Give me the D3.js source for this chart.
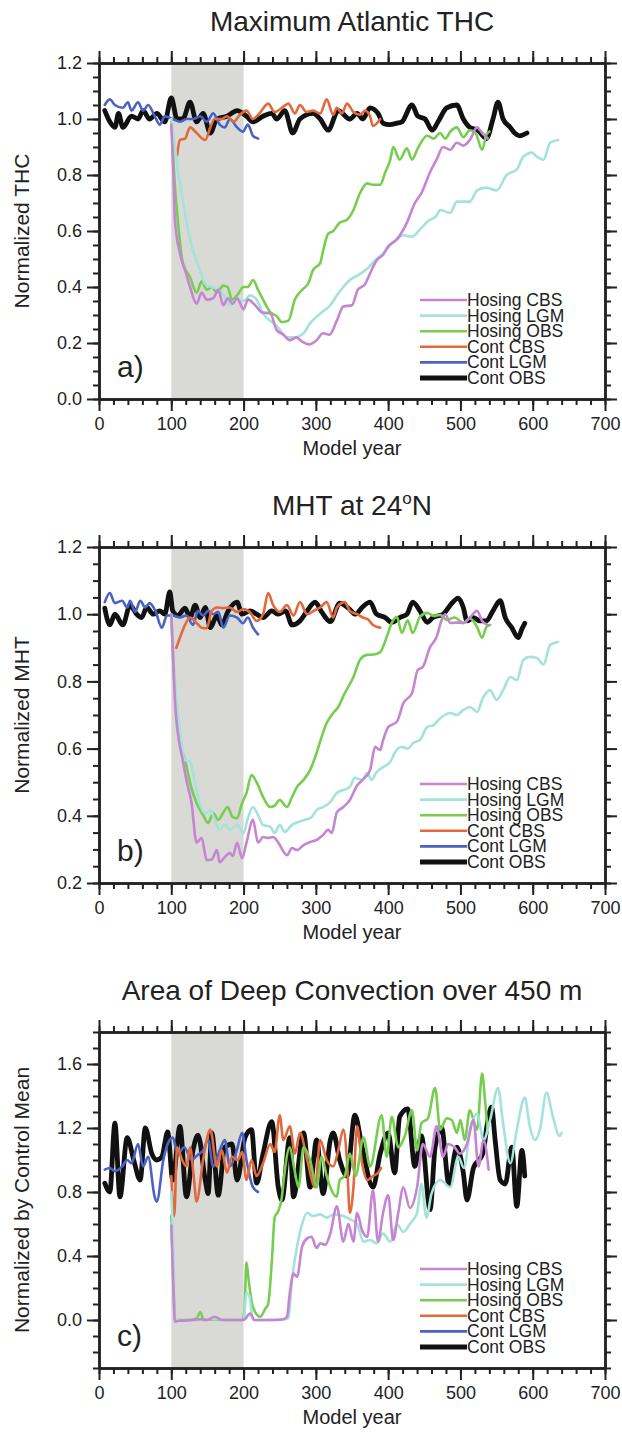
<!DOCTYPE html>
<html>
<head>
<meta charset="utf-8">
<script src="https://cdn.jsdelivr.net/npm/d3@7"></script>
<style>
  body { margin: 0; background: #fff; }
  text { font-family: "Liberation Sans", Arial, Helvetica, sans-serif; fill: #222; }
</style>
</head>
<body>
<div id="chart"></div>
<script>
// ---- data: [model year, normalized value] ----
const seriesNames = ["Hosing CBS", "Hosing LGM", "Hosing OBS", "Cont CBS", "Cont LGM", "Cont OBS"];
const xTicks = [0, 100, 200, 300, 400, 500, 600, 700];

// a) Maximum Atlantic THC
const thcHosingCBS = [[100,0.98],[103,0.8],[105,0.64],[112,0.52],[119,0.46],[126,0.40],[135,0.34],[142,0.38],[149,0.355],[158,0.36],[165,0.39],[172,0.335],[178,0.36],[185,0.34],[191,0.36],[200,0.32],[206,0.355],[216,0.335],[225,0.31],[237,0.305],[246,0.245],[255,0.23],[264,0.21],[273,0.22],[281,0.205],[290,0.195],[301,0.21],[310,0.235],[319,0.23],[329,0.28],[338,0.33],[350,0.335],[358,0.39],[368,0.41],[377,0.46],[384,0.495],[393,0.515],[400,0.545],[412,0.57],[426,0.63],[437,0.70],[446,0.735],[458,0.81],[467,0.855],[476,0.90],[486,0.89],[495,0.915],[504,0.905],[513,0.925],[523,0.97],[530,0.95],[538,0.93]];
const thcHosingLGM = [[100,1.0],[105,0.9],[110,0.8],[116,0.71],[122,0.62],[130,0.53],[140,0.46],[147,0.41],[156,0.40],[165,0.39],[173,0.37],[181,0.335],[191,0.355],[200,0.35],[209,0.37],[218,0.355],[227,0.305],[239,0.275],[248,0.255],[260,0.22],[269,0.22],[283,0.235],[292,0.27],[306,0.305],[320,0.335],[329,0.37],[338,0.40],[347,0.425],[357,0.44],[371,0.465],[382,0.495],[393,0.52],[403,0.55],[412,0.57],[421,0.585],[433,0.58],[444,0.605],[455,0.635],[467,0.655],[472,0.675],[486,0.665],[495,0.705],[513,0.705],[523,0.745],[536,0.755],[550,0.745],[564,0.80],[578,0.82],[587,0.865],[599,0.88],[606,0.865],[615,0.855],[624,0.915],[635,0.925]];
const thcHosingOBS = [[100,1.0],[104,0.8],[109,0.64],[116,0.485],[126,0.435],[135,0.38],[142,0.42],[149,0.39],[156,0.40],[163,0.38],[172,0.405],[178,0.40],[184,0.355],[191,0.37],[200,0.40],[206,0.40],[213,0.425],[220,0.39],[227,0.355],[237,0.31],[246,0.295],[253,0.275],[262,0.28],[271,0.355],[281,0.39],[290,0.415],[296,0.46],[306,0.485],[310,0.53],[317,0.59],[324,0.60],[333,0.63],[343,0.64],[352,0.675],[361,0.735],[371,0.77],[379,0.765],[389,0.765],[396,0.81],[403,0.855],[407,0.90],[416,0.855],[426,0.895],[433,0.855],[441,0.895],[454,0.94],[463,0.93],[472,0.95],[479,0.93],[486,0.955],[495,0.97],[504,0.935],[513,0.96],[521,0.95],[530,0.89],[536,0.945],[540,0.955]];
const thcContCBS = [[108,0.87],[112,0.925],[119,0.93],[126,0.97],[135,0.95],[147,0.925],[154,0.97],[160,1.0],[170,1.0],[177,1.01],[186,0.99],[195,1.015],[204,1.03],[213,1.0],[222,1.02],[234,1.055],[243,1.025],[253,1.04],[262,1.055],[271,1.02],[278,1.05],[287,1.025],[296,1.03],[306,1.02],[315,1.07],[324,1.015],[329,1.04],[336,1.02],[343,1.055],[352,1.025],[361,1.015],[368,1.03],[375,1.01],[379,0.975],[389,1.0]];
const thcContLGM = [[8,1.05],[15,1.07],[22,1.05],[33,1.04],[40,1.06],[45,1.03],[54,1.06],[61,1.03],[68,1.05],[77,1.01],[84,0.98],[91,1.01],[102,1.0],[112,0.99],[121,1.0],[130,1.0],[140,1.01],[149,0.99],[158,1.02],[167,0.98],[174,0.97],[181,1.0],[191,0.97],[199,0.955],[206,0.98],[213,0.94],[220,0.93]];
const thcContOBS = [[8,1.03],[15,0.99],[22,0.97],[27,1.02],[33,0.97],[45,1.01],[54,1.0],[61,1.03],[70,1.0],[80,1.02],[91,0.99],[100,1.075],[108,1.0],[116,1.0],[126,1.06],[135,0.99],[144,1.02],[154,0.95],[163,1.0],[177,1.01],[191,1.03],[204,1.01],[213,0.99],[227,1.01],[239,1.02],[246,1.0],[257,1.03],[268,0.95],[278,1.0],[296,1.02],[306,1.0],[317,0.96],[331,1.03],[347,1.0],[357,1.02],[365,1.0],[375,1.04],[386,1.02],[393,0.985],[402,0.98],[412,0.985],[419,0.99],[433,1.05],[441,1.01],[451,1.0],[461,0.96],[469,0.99],[481,1.04],[495,1.05],[504,1.0],[513,0.97],[524,0.96],[536,0.93],[545,1.0],[552,1.06],[559,1.0],[569,0.97],[575,0.95],[582,0.94],[592,0.95]];

// b) MHT at 24N
const mhtHosingCBS = [[100,1.0],[103,0.85],[105,0.745],[109,0.646],[115,0.575],[121,0.506],[128,0.438],[135,0.32],[142,0.334],[149,0.268],[156,0.27],[163,0.298],[167,0.262],[174,0.277],[181,0.289],[185,0.28],[191,0.32],[198,0.274],[204,0.32],[213,0.388],[220,0.32],[227,0.337],[234,0.334],[241,0.337],[248,0.32],[260,0.283],[267,0.304],[274,0.298],[283,0.313],[292,0.322],[301,0.328],[310,0.343],[317,0.358],[322,0.349],[329,0.41],[338,0.426],[347,0.447],[357,0.49],[366,0.51],[375,0.536],[382,0.605],[389,0.596],[393,0.625],[400,0.664],[412,0.68],[421,0.735],[433,0.765],[441,0.834],[448,0.843],[458,0.902],[467,0.932],[474,0.982],[479,1.0],[486,0.974],[495,0.975],[504,0.974],[513,0.99],[523,1.01],[530,0.98],[538,0.968]];
const mhtHosingLGM = [[100,1.0],[105,0.8],[112,0.655],[119,0.566],[126,0.56],[133,0.498],[140,0.432],[147,0.408],[154,0.417],[160,0.388],[167,0.358],[174,0.373],[181,0.358],[191,0.373],[200,0.349],[206,0.393],[213,0.426],[220,0.402],[227,0.373],[237,0.367],[243,0.349],[250,0.373],[257,0.352],[267,0.373],[276,0.382],[285,0.388],[294,0.396],[301,0.417],[310,0.426],[320,0.441],[329,0.468],[338,0.477],[347,0.486],[354,0.513],[364,0.507],[371,0.527],[377,0.507],[384,0.53],[393,0.545],[403,0.56],[409,0.587],[419,0.605],[427,0.6],[435,0.617],[444,0.626],[454,0.664],[463,0.67],[472,0.69],[486,0.706],[495,0.70],[504,0.715],[513,0.724],[523,0.709],[531,0.75],[541,0.774],[550,0.745],[559,0.774],[569,0.813],[578,0.804],[587,0.864],[596,0.873],[606,0.87],[615,0.85],[624,0.908],[635,0.917]];
const mhtHosingOBS = [[100,1.0],[104,0.8],[108,0.7],[112,0.617],[119,0.566],[126,0.498],[135,0.438],[144,0.402],[151,0.379],[158,0.408],[165,0.388],[172,0.41],[178,0.426],[185,0.396],[191,0.393],[198,0.438],[204,0.468],[211,0.521],[218,0.50],[227,0.456],[237,0.426],[243,0.43],[250,0.447],[260,0.426],[267,0.456],[274,0.486],[283,0.507],[292,0.536],[301,0.587],[308,0.635],[315,0.676],[324,0.706],[331,0.724],[340,0.765],[352,0.813],[361,0.864],[371,0.879],[380,0.88],[389,0.887],[398,0.932],[405,0.974],[412,0.992],[419,0.944],[427,0.982],[434,0.944],[444,0.992],[454,1.004],[463,0.995],[472,0.998],[481,0.983],[492,0.99],[504,0.974],[513,0.988],[523,0.962],[530,0.93],[536,0.962],[541,0.968]];
const mhtContCBS = [[107,0.9],[112,0.93],[119,0.968],[126,0.99],[135,0.974],[142,0.96],[149,0.958],[156,1.01],[163,1.02],[172,1.018],[181,1.02],[191,1.007],[200,1.015],[209,1.005],[218,0.98],[227,1.0],[234,1.063],[241,1.027],[250,1.007],[260,1.027],[269,0.996],[278,1.036],[288,1.0],[297,1.01],[306,1.02],[315,1.036],[324,0.99],[329,1.02],[340,1.036],[347,1.01],[357,1.0],[365,0.99],[372,0.985],[379,0.968],[389,0.96]];
const mhtContLGM = [[8,1.036],[15,1.063],[22,1.033],[32,1.04],[39,1.02],[43,1.04],[50,1.007],[57,1.04],[64,1.02],[70,1.033],[78,1.01],[87,0.96],[94,0.996],[102,0.996],[112,0.99],[121,0.996],[130,0.968],[137,1.01],[144,0.996],[151,1.01],[158,1.0],[165,1.007],[172,0.96],[181,0.996],[191,0.99],[199,0.973],[206,0.99],[213,0.96],[220,0.94]];
const mhtContOBS = [[8,1.018],[15,0.968],[22,1.0],[33,0.968],[43,1.027],[52,1.0],[59,0.99],[66,1.02],[75,1.0],[84,1.01],[91,1.0],[98,1.066],[102,1.01],[109,0.996],[119,1.018],[126,0.99],[133,1.027],[140,0.99],[147,1.02],[154,0.96],[163,0.996],[170,0.968],[178,1.007],[191,1.036],[198,1.0],[209,1.01],[218,1.0],[227,0.99],[239,1.01],[248,1.0],[258,1.01],[267,0.968],[278,0.98],[288,1.01],[299,1.036],[308,1.007],[320,0.978],[333,1.033],[345,1.018],[355,1.0],[364,1.02],[375,1.036],[384,1.0],[396,0.99],[405,0.976],[416,0.99],[426,1.0],[434,1.036],[444,1.01],[454,0.976],[462,0.99],[476,1.0],[486,1.027],[497,1.048],[504,1.02],[509,0.98],[518,0.99],[527,0.98],[536,0.98],[545,1.01],[555,1.04],[562,0.99],[571,0.96],[580,0.93],[585,0.956],[589,0.973]];

// c) Area of deep convection over 450 m
const convHosingCBS = [[100,0.59],[103,0.2],[105,-0.01],[110,-0.005],[130,0.0],[140,0.005],[150,0.0],[160,0.02],[170,0.0],[190,0.0],[200,0.0],[209,0.04],[215,0.0],[240,0.0],[255,0.005],[260,0.02],[264,0.17],[269,0.29],[274,0.27],[281,0.46],[288,0.51],[294,0.52],[301,0.45],[306,0.48],[313,0.47],[320,0.54],[329,0.71],[338,0.49],[345,0.6],[352,0.49],[357,0.67],[364,0.56],[371,0.52],[379,0.81],[386,0.49],[393,0.67],[400,0.78],[407,0.5],[414,0.67],[421,0.83],[430,0.7],[440,0.83],[448,1.1],[458,1.02],[467,1.21],[476,1.02],[483,1.1],[492,1.08],[499,1.04],[509,1.1],[518,1.25],[525,0.96],[532,1.125],[539,0.94]];
const convHosingLGM = [[100,0.8],[103,0.4],[105,0.0],[120,0.0],[140,0.0],[160,0.01],[180,0.0],[200,0.0],[204,0.17],[208,0.15],[213,0.0],[230,0.0],[250,0.0],[262,0.01],[267,0.25],[274,0.46],[281,0.6],[288,0.67],[296,0.65],[306,0.66],[315,0.64],[325,0.66],[338,0.65],[347,0.63],[357,0.6],[366,0.49],[375,0.5],[384,0.48],[393,0.54],[403,0.49],[412,0.6],[421,0.55],[430,0.6],[440,0.67],[446,0.85],[453,0.64],[460,0.79],[472,0.875],[486,0.83],[497,1.02],[505,0.95],[513,1.17],[523,1.29],[532,1.125],[541,1.25],[552,1.45],[559,1.23],[569,0.98],[578,1.19],[589,1.39],[596,1.21],[603,1.125],[610,1.19],[619,1.42],[628,1.27],[637,1.15],[640,1.17]];
const convHosingOBS = [[100,0.65],[103,0.2],[105,0.0],[120,0.0],[135,0.01],[140,0.05],[145,0.0],[160,0.005],[180,0.0],[198,0.0],[201,0.05],[204,0.36],[207,0.25],[213,0.08],[223,0.02],[230,0.07],[234,0.1],[239,0.36],[243,0.64],[248,0.68],[253,0.77],[255,0.855],[264,1.08],[270,0.95],[276,0.83],[283,1.08],[292,1.0],[301,0.83],[308,1.02],[315,0.9],[320,0.83],[329,0.77],[333,0.875],[340,0.9],[347,1.04],[355,0.9],[366,1.14],[375,0.96],[391,1.28],[398,1.02],[405,1.27],[414,1.08],[423,1.15],[433,1.31],[440,1.06],[446,1.23],[455,1.26],[465,1.45],[472,1.19],[481,1.26],[488,1.25],[495,1.17],[500,1.25],[506,1.125],[513,1.31],[523,1.19],[530,1.54],[534,1.375],[538,1.17]];
const convContCBS = [[100,0.9],[104,0.65],[108,1.08],[115,1.0],[121,0.96],[126,1.08],[131,0.9],[135,0.74],[144,1.0],[154,1.19],[163,0.96],[170,1.06],[177,0.92],[184,1.02],[192,1.0],[198,1.05],[204,0.875],[211,1.0],[218,0.9],[227,0.98],[237,1.1],[243,1.05],[250,1.28],[255,1.125],[264,1.21],[271,1.04],[278,1.17],[288,1.0],[299,0.83],[306,1.125],[315,1.0],[324,0.96],[331,1.06],[338,1.19],[343,1.0],[347,0.67],[352,0.83],[357,1.21],[364,0.98],[371,0.875],[379,0.9],[386,0.92],[390,0.95]];
const convContLGM = [[8,0.94],[15,0.95],[22,0.93],[32,0.96],[39,1.0],[45,0.98],[54,1.1],[61,0.96],[68,1.02],[77,0.77],[80,0.74],[89,1.0],[95,1.1],[102,1.14],[109,1.04],[118,1.08],[128,1.0],[136,1.03],[144,1.06],[151,1.125],[158,0.96],[167,1.06],[174,1.125],[181,0.96],[190,1.05],[198,1.17],[204,1.0],[213,0.83],[220,0.8]];
const convContOBS = [[8,0.855],[15,0.8],[22,1.23],[29,0.77],[39,1.14],[48,1.0],[57,0.875],[64,1.2],[73,1.04],[80,1.0],[87,1.02],[95,1.175],[102,0.875],[112,1.21],[121,0.77],[130,1.06],[137,1.155],[147,0.875],[151,0.79],[156,1.17],[165,0.78],[174,1.08],[184,1.1],[191,0.875],[202,1.14],[211,1.19],[218,0.855],[227,1.04],[239,1.24],[248,0.83],[253,0.75],[264,1.14],[269,0.77],[283,1.17],[292,0.83],[301,1.125],[310,0.79],[320,1.125],[324,1.17],[333,1.0],[343,0.9],[354,1.28],[364,1.08],[379,0.83],[389,1.04],[400,1.17],[409,0.92],[416,1.27],[427,1.32],[437,0.96],[446,1.15],[458,0.69],[465,1.08],[474,1.2],[484,0.85],[495,1.08],[504,0.92],[509,0.75],[518,0.95],[531,1.04],[538,1.25],[543,1.33],[548,1.125],[555,0.875],[562,0.85],[571,1.08],[578,0.71],[585,1.06],[589,0.9]];

// ---- styling ----
const colors = {"Hosing CBS": "#c585d2", "Hosing LGM": "#a3e3d8", "Hosing OBS": "#77cd4f",
  "Cont CBS": "#e2693d", "Cont LGM": "#4a62c4", "Cont OBS": "#111111"};
const widths = {"Hosing CBS": 2.6, "Hosing LGM": 2.6, "Hosing OBS": 2.6, "Cont CBS": 2.6, "Cont LGM": 2.6, "Cont OBS": 4.8};
// draw order, back to front
const drawOrder = ["Cont OBS", "Cont LGM", "Cont CBS", "Hosing OBS", "Hosing LGM", "Hosing CBS"];

const panels = [
  {id: "a", title: "Maximum Atlantic THC", ylabel: "Normalized THC", tag: "a)", top: 63, bottom: 399,
   domain: [0, 1.2], major: d3.range(0, 1.201, 0.2), minor: d3.range(0, 1.201, 0.05), legendY: 300,
   data: [thcHosingCBS, thcHosingLGM, thcHosingOBS, thcContCBS, thcContLGM, thcContOBS]},
  {id: "b", title: "MHT at 24", ylabel: "Normalized MHT", tag: "b)", top: 547, bottom: 883,
   domain: [0.2, 1.2], major: d3.range(0.2, 1.201, 0.2), minor: d3.range(0.2, 1.201, 0.05), legendY: 784,
   data: [mhtHosingCBS, mhtHosingLGM, mhtHosingOBS, mhtContCBS, mhtContLGM, mhtContOBS]},
  {id: "c", title: "Area of Deep Convection over 450 m", ylabel: "Normalized by Control Mean", tag: "c)", top: 1032, bottom: 1368,
   domain: [-0.3, 1.8], major: d3.range(0, 1.601, 0.4), minor: d3.range(-0.3, 1.801, 0.1), legendY: 1269,
   data: [convHosingCBS, convHosingLGM, convHosingOBS, convContCBS, convContLGM, convContOBS]}
];

const width = 622, height = 1446;
const svg = d3.select("#chart").append("svg")
  .attr("width", width).attr("height", height)
  .attr("viewBox", [0, 0, width, height]);

const x = d3.scaleLinear().domain([0, 700]).range([99, 605]);
const xMinor = d3.range(0, 701, 20);

panels.forEach(p => {
  const y = d3.scaleLinear().domain(p.domain).range([p.bottom, p.top]);
  const g = svg.append("g");

  // title
  const t = g.append("text")
    .attr("x", 352).attr("y", p.top - 32)
    .attr("text-anchor", "middle")
    .style("font-size", "28px")
    .text(p.title);
  if (p.id === "b") {
    t.append("tspan").attr("dy", -11).style("font-size", "17px").text("o");
    t.append("tspan").attr("dy", 11).text("N");
  }

  // hosing period shading
  g.append("rect")
    .attr("x", x(100)).attr("width", x(200) - x(100))
    .attr("y", p.top).attr("height", p.bottom - p.top)
    .attr("fill", "#d9dad6");

  // lines
  g.append("clipPath").attr("id", "clip-" + p.id)
    .append("rect").attr("x", x(0)).attr("y", p.top)
    .attr("width", x(700) - x(0)).attr("height", p.bottom - p.top);

  const line = d3.line()
    .x(d => x(d[0]))
    .y(d => y(d[1]))
    .curve(d3.curveMonotoneX);

  const lines = g.append("g").attr("clip-path", `url(#clip-${p.id})`);
  drawOrder.forEach(name => {
    const i = seriesNames.indexOf(name);
    lines.append("path")
      .datum(p.data[i])
      .attr("d", line)
      .attr("fill", "none")
      .attr("stroke", colors[name])
      .attr("stroke-width", widths[name])
      .attr("stroke-linejoin", "round")
      .attr("stroke-linecap", "round");
  });

  // axes: outward ticks on all four sides
  const axisStyle = sel => {
    sel.selectAll("path.domain").attr("stroke", "#222").attr("stroke-width", 2.5);
    sel.selectAll(".tick line").attr("stroke", "#222").attr("stroke-width", 2);
    sel.selectAll(".tick text").style("font-size", "18px").attr("fill", "#222");
  };
  const fmt = d3.format(".1f");

  g.append("g").attr("transform", `translate(0,${p.bottom})`)
    .call(d3.axisBottom(x).tickValues(xMinor).tickSize(6).tickSizeOuter(0).tickFormat(""))
    .call(axisStyle);
  g.append("g").attr("transform", `translate(0,${p.bottom})`)
    .call(d3.axisBottom(x).tickValues(xTicks).tickSize(12).tickSizeOuter(0).tickPadding(6).tickFormat(d3.format("d")))
    .call(axisStyle);
  g.append("g").attr("transform", `translate(0,${p.top})`)
    .call(d3.axisTop(x).tickValues(xMinor).tickSize(6).tickSizeOuter(0).tickFormat(""))
    .call(axisStyle);
  g.append("g").attr("transform", `translate(0,${p.top})`)
    .call(d3.axisTop(x).tickValues(xTicks).tickSize(12).tickSizeOuter(0).tickFormat(""))
    .call(axisStyle);
  g.append("g").attr("transform", `translate(${x(0)},0)`)
    .call(d3.axisLeft(y).tickValues(p.minor).tickSize(6).tickSizeOuter(0).tickFormat(""))
    .call(axisStyle);
  g.append("g").attr("transform", `translate(${x(0)},0)`)
    .call(d3.axisLeft(y).tickValues(p.major).tickSize(12).tickSizeOuter(0).tickPadding(5).tickFormat(d => fmt(Math.abs(d) < 1e-9 ? 0 : d)))
    .call(axisStyle);
  g.append("g").attr("transform", `translate(${x(700)},0)`)
    .call(d3.axisRight(y).tickValues(p.minor).tickSize(6).tickSizeOuter(0).tickFormat(""))
    .call(axisStyle);
  g.append("g").attr("transform", `translate(${x(700)},0)`)
    .call(d3.axisRight(y).tickValues(p.major).tickSize(12).tickSizeOuter(0).tickFormat(""))
    .call(axisStyle);

  // axis titles
  g.append("text")
    .attr("x", 352).attr("y", p.bottom + 56)
    .attr("text-anchor", "middle")
    .style("font-size", "20px")
    .text("Model year");
  g.append("text")
    .attr("transform", `translate(29,${(p.top + p.bottom) / 2}) rotate(-90)`)
    .attr("text-anchor", "middle")
    .style("font-size", "21px")
    .text(p.ylabel);

  // panel tag
  g.append("text")
    .attr("x", 117).attr("y", p.bottom - 22)
    .style("font-size", "30px")
    .text(p.tag);

  // legend (entries packed tightly, as in the original)
  const leg = g.append("g");
  seriesNames.forEach((name, i) => {
    const ly = p.legendY + i * 15.6;
    leg.append("line")
      .attr("x1", 420).attr("x2", 467).attr("y1", ly).attr("y2", ly)
      .attr("stroke", colors[name]).attr("stroke-width", widths[name]);
    leg.append("text")
      .attr("x", 467).attr("y", ly + 6)
      .style("font-size", "17.5px")
      .text(name);
  });
});
</script>
</body>
</html>
